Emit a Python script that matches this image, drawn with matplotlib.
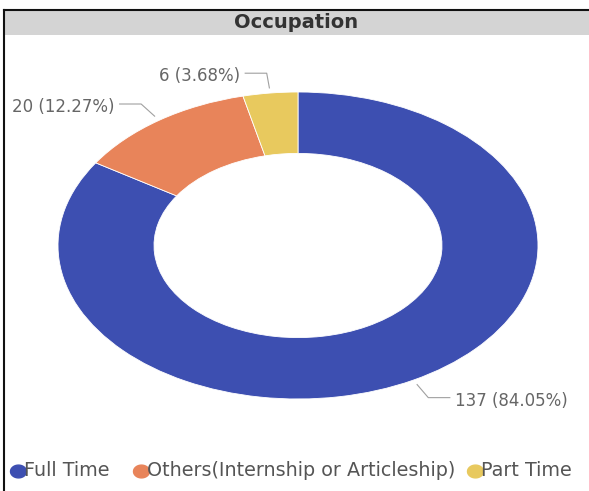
import numpy as np
import matplotlib.pyplot as plt
from matplotlib.patches import Rectangle
from matplotlib.lines import Line2D
from matplotlib.path import Path

categories = ["Full Time", "Others(Internship or Articleship)", "Part Time"]
counts = [137, 20, 6]
percent_labels = ["84.05%", "12.27%", "3.68%"]
colors = ["#3D4FB1", "#E8845A", "#E8C95E"]
title = "Occupation"

plt.rcParams['font.family'] = ['DejaVu Sans']

W, H = 589, 491
fig = plt.figure(figsize=(W / 100, H / 100), dpi=100)
fig.patch.set_facecolor("white")

def fx(px):
    return px / W

def fy(py):
    return 1 - py / H

# Panel frame and header band
fig.add_artist(Rectangle((fx(4), fy(35)), 1 - fx(4), fy(10) - fy(35),
                         transform=fig.transFigure, facecolor="#D4D4D4",
                         edgecolor="none", zorder=0))
fig.add_artist(Line2D([fx(4), fx(4)], [fy(10), 0], transform=fig.transFigure,
                      color="#111111", lw=1.5))
fig.add_artist(Line2D([fx(4), 1], [fy(10), fy(10)], transform=fig.transFigure,
                      color="#111111", lw=1.5))
fig.text(fx(296), fy(22), title, ha="center", va="center", fontsize=14,
         fontweight="bold", color="#333333")

# Donut, stretched horizontally to fill the panel
left, right, top, bottom = 58, 538, 92, 399
ax = fig.add_axes([fx(left), fy(bottom), fx(right - left), fy(top) - fy(bottom)])
wedges, _ = ax.pie(counts, colors=colors, startangle=90, counterclock=False,
                   radius=1.0, wedgeprops=dict(width=0.4, edgecolor="white",
                                               linewidth=0.6))
ax.set_aspect("auto")
ax.set_xlim(-1, 1)
ax.set_ylim(-1, 1)
ax.axis("off")

# Leader lines with value labels
for w, n, pct in zip(wedges, counts, percent_labels):
    mid = np.deg2rad((w.theta1 + w.theta2) / 2)
    c, s = np.cos(mid), np.sin(mid)
    p0 = (1.03 * c, 1.03 * s)
    p1 = (1.13 * c, 1.13 * s)
    side = 1 if c >= 0 else -1
    p2 = (p1[0] + side * 0.092, p1[1])
    ax.plot([p0[0], p1[0], p2[0]], [p0[1], p1[1], p2[1]], color="#A0A0A0",
            lw=0.8, clip_on=False, solid_capstyle="butt")
    ax.text(p2[0] + side * 0.02, p2[1] - 0.02, f"{n} ({pct})",
            ha="left" if side > 0 else "right", va="center",
            fontsize=12, color="#666666", clip_on=False)

# Legend row with slightly wide oval markers
theta = np.linspace(0, 2 * np.pi, 60)
oval = Path(np.column_stack([1.25 * np.cos(theta), np.sin(theta)]), closed=True)
legend_x = [18, 141, 475]
for x, cat, col in zip(legend_x, categories, colors):
    fig.add_artist(Line2D([fx(x)], [fy(471)], marker=oval, markersize=11.5,
                          color=col, linestyle="none",
                          transform=fig.transFigure))
    fig.text(fx(x + 6), fy(471), cat, ha="left", va="center",
             fontsize=13.8, color="#555555")

fig.savefig("out.png", dpi=100)
